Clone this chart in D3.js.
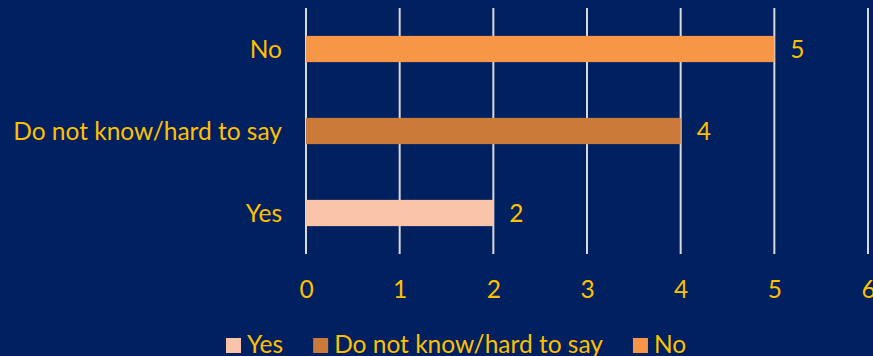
<!DOCTYPE html>
<html>
<head>
<meta charset="utf-8">
<script src="https://cdn.jsdelivr.net/npm/d3@7"></script>
<style>
  html, body { margin: 0; padding: 0; background: #002060; }
  svg { display: block; }
  text { font-family: Lato, "Liberation Sans", sans-serif; fill: #FFC000; }
</style>
</head>
<body>
<svg id="chart" width="873" height="356"></svg>
<script>
// Survey answers, one bar per answer
const categories = ["Yes", "Do not know/hard to say", "No"];
const values = [2, 4, 5];
const colors = ["#FAC4AA", "#CC7A3A", "#F79646"];
const tickValues = [0, 1, 2, 3, 4, 5, 6];

const W = 873, H = 356;
const svg = d3.select("#chart");
svg.append("rect").attr("width", W).attr("height", H).attr("fill", "#002060");

const plot = { left: 306, right: 868, top: 8, bottom: 254 };
const fontSize = 24.5;

const x = d3.scaleLinear().domain([0, 6]).range([plot.left, plot.right]);
// top-to-bottom order: No, Do not know, Yes
const y = d3.scaleBand()
  .domain(categories.slice().reverse())
  .range([plot.top, plot.bottom])
  .paddingInner(0.68)
  .paddingOuter(0.34);

// vertical gridlines
svg.append("g").selectAll("line").data(tickValues).join("line")
  .attr("x1", d => x(d)).attr("x2", d => x(d))
  .attr("y1", plot.top).attr("y2", plot.bottom)
  .attr("stroke", "#D9D9D9").attr("stroke-width", 2);

// bars
svg.append("g").selectAll("rect").data(categories).join("rect")
  .attr("x", x(0))
  .attr("y", d => y(d))
  .attr("width", (d, i) => x(values[i]) - x(0))
  .attr("height", y.bandwidth())
  .attr("fill", (d, i) => colors[i]);

// value labels
svg.append("g").selectAll("text").data(categories).join("text")
  .attr("x", (d, i) => x(values[i]) + 16)
  .attr("y", d => y(d) + y.bandwidth() / 2 + 8.5)
  .attr("font-size", fontSize)
  .text((d, i) => values[i]);

// category labels
const yAxis = d3.axisLeft(y).tickSize(0).tickPadding(24);
const gy = svg.append("g").attr("transform", `translate(${plot.left},0)`).call(yAxis);
gy.select(".domain").remove();
gy.selectAll("text")
  .attr("font-size", fontSize)
  .attr("font-family", null)
  .attr("fill", "#FFC000")
  .attr("dy", null)
  .attr("y", 8.5);

// value axis tick labels
const xAxis = d3.axisBottom(x).tickValues(tickValues).tickSize(0).tickPadding(0).tickFormat(d3.format("d"));
const gx = svg.append("g").attr("transform", `translate(0,${plot.bottom})`).call(xAxis);
gx.select(".domain").remove();
gx.selectAll("text")
  .attr("font-size", fontSize)
  .attr("font-family", null)
  .attr("fill", "#FFC000")
  .attr("dy", null)
  .attr("y", 44);

// legend
const legend = svg.append("g").attr("transform", "translate(226,338)");
let lx = 0;
categories.forEach((c, i) => {
  const g = legend.append("g").attr("transform", `translate(${lx},0)`);
  g.append("rect").attr("width", 15).attr("height", 15).attr("fill", colors[i]);
  const t = g.append("text").attr("x", 21).attr("y", 14.5)
    .attr("font-size", fontSize).text(c);
  lx += 21 + t.node().getComputedTextLength() + 30;
});
</script>
</body>
</html>
